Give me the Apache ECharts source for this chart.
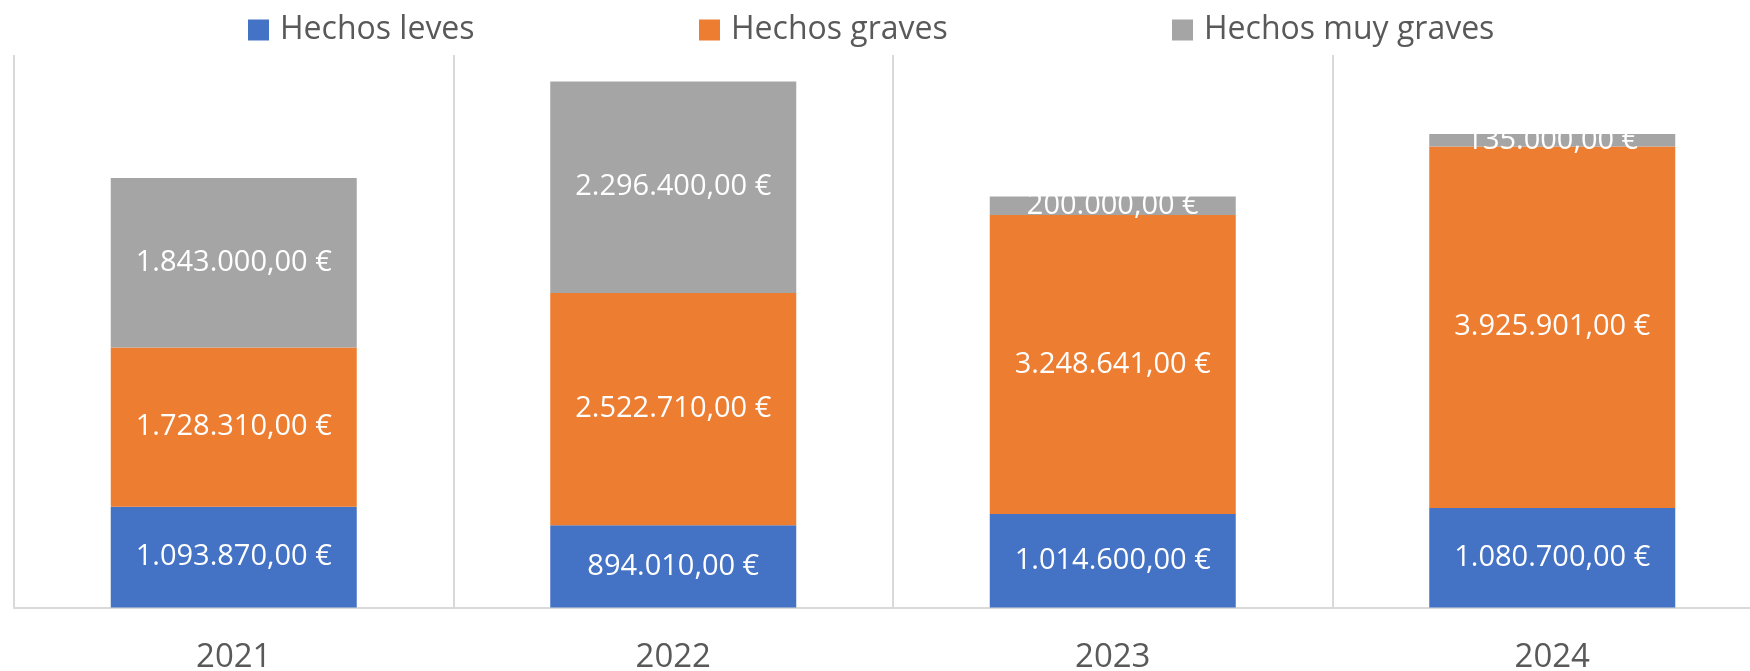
<!DOCTYPE html>
<html>
<head>
<meta charset="utf-8">
<script src="https://cdn.jsdelivr.net/npm/echarts@6/dist/echarts.min.js"></script>
<style>
  html, body { margin: 0; padding: 0; background: #fff; }
  #chart { width: 1750px; height: 671px; }
</style>
</head>
<body>
<div id="chart"></div>
<script>
// datos del gráfico
var years = ['2021', '2022', '2023', '2024'];
var seriesNames = ['Hechos leves', 'Hechos graves', 'Hechos muy graves'];
var leves = [1093870, 894010, 1014600, 1080700];
var graves = [1728310, 2522710, 3248641, 3925901];
var muyGraves = [1843000, 2296400, 200000, 135000];
var colors = ['#4472C4', '#ED7D31', '#A5A5A5'];

// 1093870 -> "1.093.870,00 €"
function euro(v) {
  var parts = v.toFixed(2).split('.');
  var ent = parts[0].replace(/\B(?=(\d{3})+(?!\d))/g, '.');
  return ent + ',' + parts[1] + ' €';
}

var font = '"Open Sans", "Noto Sans", sans-serif';

var chart = echarts.init(document.getElementById('chart'));

function makeLegend(name, left) {
  return {
    data: [name],
    left: left,
    top: 9,
    itemWidth: 21,
    itemHeight: 21,
    icon: 'rect',
    selectedMode: false,
    textStyle: {
      fontFamily: font,
      fontSize: 32,
      color: '#595959',
      padding: [0, 0, 0, 6]
    }
  };
}

function makeSeries(name, data, color) {
  return {
    name: name,
    type: 'bar',
    stack: 'total',
    barWidth: 246,
    data: data,
    itemStyle: { color: color },
    label: {
      show: true,
      position: 'inside',
      color: '#fff',
      fontFamily: font,
      fontSize: 29,
      formatter: function (p) { return euro(p.value); }
    }
  };
}

var option = {
  animation: false,
  color: colors,
  legend: [
    makeLegend(seriesNames[0], 243),
    makeLegend(seriesNames[1], 694),
    makeLegend(seriesNames[2], 1167)
  ],
  // el área del gráfico sigue más allá del borde derecho
  grid: {
    left: 14,
    right: -22,
    top: 55,
    bottom: 63.5,
    containLabel: false,
    outerBoundsMode: 'none'
  },
  xAxis: {
    type: 'category',
    data: years,
    axisTick: { show: false },
    axisLine: { lineStyle: { color: '#D9D9D9', width: 2 } },
    splitLine: { show: true, interval: 0, lineStyle: { color: '#D9D9D9', width: 2 } },
    axisLabel: {
      color: '#595959',
      fontFamily: font,
      fontSize: 33,
      margin: 34
    }
  },
  yAxis: {
    type: 'value',
    min: 0,
    max: 6000000,
    show: false
  },
  series: [
    makeSeries(seriesNames[0], leves, colors[0]),
    makeSeries(seriesNames[1], graves, colors[1]),
    makeSeries(seriesNames[2], muyGraves, colors[2])
  ]
};

chart.setOption(option);
</script>
</body>
</html>
